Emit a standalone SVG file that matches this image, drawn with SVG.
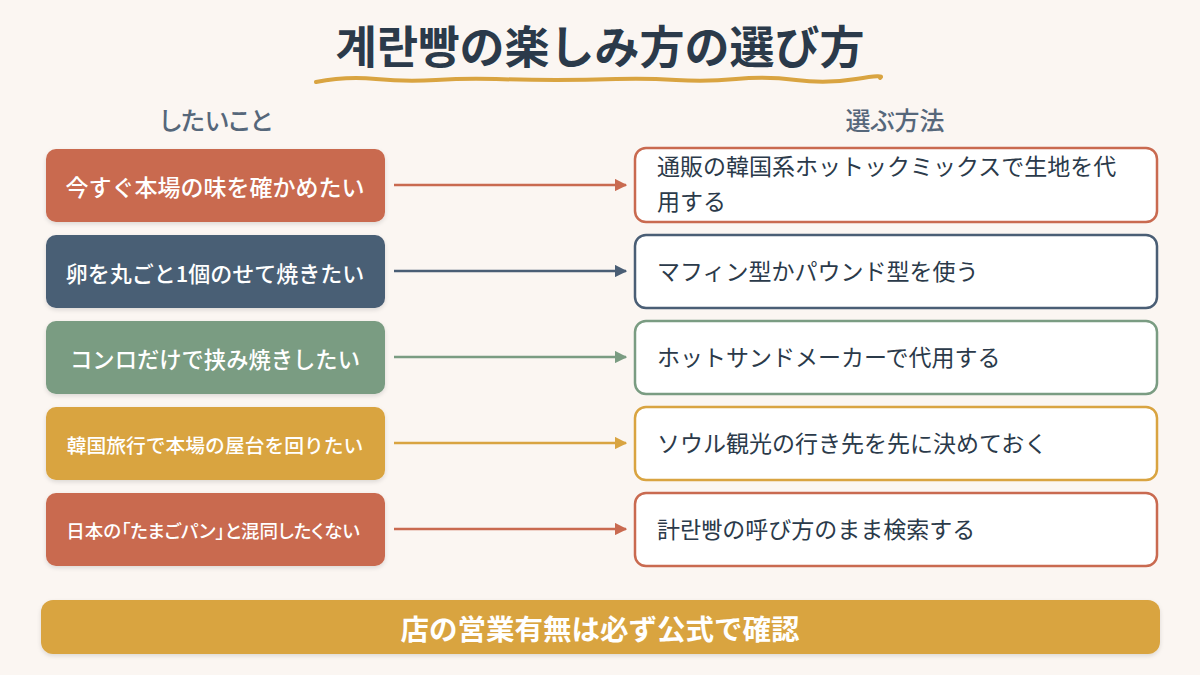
<svg xmlns="http://www.w3.org/2000/svg" width="1200" height="675" viewBox="0 0 1200 675">
<defs>
<style>
.t{font-family:"Noto Sans CJK JP","Noto Sans",sans-serif}
.lb{fill:#fff;font-weight:500;text-anchor:middle;dominant-baseline:central}
.rb{fill:#fff;stroke-width:2.5}
.rt{fill:#2B3A4A;font-size:23px}
.hd{fill:#56677A;font-size:25px;font-weight:500;text-anchor:middle;font-feature-settings:'palt'}
.ar{stroke-width:2.5;fill:none}
</style>
<filter id="sh" x="-5%" y="-10%" width="110%" height="130%"><feDropShadow dx="0" dy="2" stdDeviation="2" flood-color="#000" flood-opacity="0.12"/></filter>
<marker id="mr" viewBox="0 0 10 10" refX="9" refY="5" markerWidth="5" markerHeight="5" orient="auto"><path d="M0,0L10,5L0,10z" fill="#C96A50"/></marker>
<marker id="mn" viewBox="0 0 10 10" refX="9" refY="5" markerWidth="5" markerHeight="5" orient="auto"><path d="M0,0L10,5L0,10z" fill="#4A5E75"/></marker>
<marker id="mg" viewBox="0 0 10 10" refX="9" refY="5" markerWidth="5" markerHeight="5" orient="auto"><path d="M0,0L10,5L0,10z" fill="#7A9C82"/></marker>
<marker id="my" viewBox="0 0 10 10" refX="9" refY="5" markerWidth="5" markerHeight="5" orient="auto"><path d="M0,0L10,5L0,10z" fill="#D9A441"/></marker>
</defs>
<rect width="1200" height="675" fill="#FBF6F2"/>
<g id="title">
<text class="t" x="600" y="64" font-size="45" font-weight="700" fill="#2B3A4A" text-anchor="middle">계란빵の楽しみ方の選び方</text>
<path d="M316,82 Q346,76 376,79 T436,80 T496,79 T556,80 T616,79 T676,80 T736,79 T796,80 T856,79 T880,78" stroke="#D9A441" stroke-width="4" fill="none" stroke-linecap="round"/>
</g>
<g id="headers">
<text class="t hd" x="216" y="130">したいこと</text>
<text class="t hd" x="895" y="130">選ぶ方法</text>
</g>
<g id="left1"><rect x="46" y="149" width="339" height="73" rx="10" fill="#C96A50" filter="url(#sh)"/><text class="t lb" x="215" y="186" font-size="23">今すぐ本場の味を確かめたい</text></g>
<g id="left2"><rect x="46" y="235" width="339" height="73" rx="10" fill="#4A5E75" filter="url(#sh)"/><text class="t lb" x="215" y="272" font-size="22">卵を丸ごと1個のせて焼きたい</text></g>
<g id="left3"><rect x="46" y="321" width="339" height="73" rx="10" fill="#7A9C82" filter="url(#sh)"/><text class="t lb" x="215" y="358" font-size="22.3">コンロだけで挟み焼きしたい</text></g>
<g id="left4"><rect x="46" y="407" width="339" height="73" rx="10" fill="#D9A441" filter="url(#sh)"/><text class="t lb" x="215" y="444" font-size="19.8">韓国旅行で本場の屋台を回りたい</text></g>
<g id="left5"><rect x="46" y="493" width="339" height="73" rx="10" fill="#C96A50" filter="url(#sh)"/><text class="t lb" x="213" y="530" font-size="18.5" style="font-feature-settings:'palt'">日本の「たまごパン」と混同したくない</text></g>
<g id="right1"><rect class="rb" x="635" y="148" width="522" height="74" rx="11" stroke="#C96A50"/><text class="t rt" x="657" y="175">通販の韓国系ホットックミックスで生地を代</text><text class="t rt" x="657" y="210">用する</text></g>
<g id="right2"><rect class="rb" x="635" y="235" width="522" height="73" rx="11" stroke="#4A5E75"/><text class="t rt" x="657" y="280">マフィン型かパウンド型を使う</text></g>
<g id="right3"><rect class="rb" x="635" y="321" width="522" height="73" rx="11" stroke="#7A9C82"/><text class="t rt" x="657" y="366">ホットサンドメーカーで代用する</text></g>
<g id="right4"><rect class="rb" x="635" y="407" width="522" height="73" rx="11" stroke="#D9A441"/><text class="t rt" x="657" y="452">ソウル観光の行き先を先に決めておく</text></g>
<g id="right5"><rect class="rb" x="635" y="493" width="522" height="73" rx="11" stroke="#C96A50"/><text class="t rt" x="657" y="538">計란빵の呼び方のまま検索する</text></g>
<g id="connectors">
<line class="ar" x1="394" y1="185" x2="626" y2="185" stroke="#C96A50" marker-end="url(#mr)"/>
<line class="ar" x1="394" y1="271" x2="626" y2="271" stroke="#4A5E75" marker-end="url(#mn)"/>
<line class="ar" x1="394" y1="357" x2="626" y2="357" stroke="#7A9C82" marker-end="url(#mg)"/>
<line class="ar" x1="394" y1="443" x2="626" y2="443" stroke="#D9A441" marker-end="url(#my)"/>
<line class="ar" x1="394" y1="529" x2="626" y2="529" stroke="#C96A50" marker-end="url(#mr)"/>
</g>
<g id="footer"><rect x="41" y="600" width="1119" height="54" rx="12" fill="#D9A441" filter="url(#sh)"/><text class="t" x="600" y="627" font-size="28.5" font-weight="700" fill="#fff" text-anchor="middle" dominant-baseline="central">店の営業有無は必ず公式で確認</text></g>
</svg>
